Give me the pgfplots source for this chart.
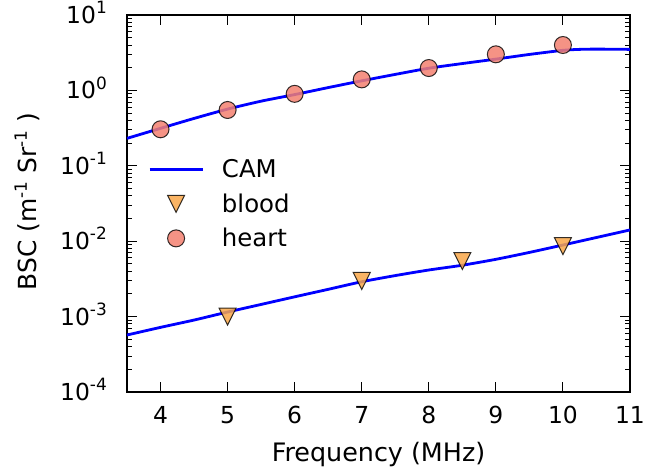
\documentclass[border=0pt]{standalone}
\usepackage{fontspec}
\setmainfont{DejaVu Sans}
\usepackage{pgfplots}
\pgfplotsset{compat=1.18}
\definecolor{camblue}{RGB}{0,0,255}
\definecolor{heartc}{RGB}{243,128,112}
\definecolor{bloodc}{RGB}{249,167,73}
\pgfdeclareplotmark{tridown}{%
  \pgfpathmoveto{\pgfqpoint{0pt}{-\pgfplotmarksize}}%
  \pgfpathlineto{\pgfqpoint{-\pgfplotmarksize}{\pgfplotmarksize}}%
  \pgfpathlineto{\pgfqpoint{\pgfplotmarksize}{\pgfplotmarksize}}%
  \pgfpathclose
  \pgfusepathqfillstroke}
\newcommand{\tsup}[1]{\raisebox{10bp}{\fontsize{17}{17}\selectfont #1}}
\begin{document}
\begin{tikzpicture}[font=\fontsize{24.5}{29}\selectfont]
\begin{axis}[
  at={(0,0)}, anchor=south west,
  scale only axis, width=503bp, height=377bp,
  ymode=log, xmin=3.5, xmax=11, ymin=1e-4, ymax=1e1,
  xtick={4,5,6,7,8,9,10,11},
  xticklabels={4,5,6,7,8,9,10,11},
  ytick={1e-4,1e-3,1e-2,1e-1,1,10},
  yticklabels={10\tsup{-4},10\tsup{-3},10\tsup{-2},10\tsup{-1},10\tsup{0},10\tsup{1}},
  minor ytick={2e-4,3e-4,4e-4,5e-4,6e-4,7e-4,8e-4,9e-4,
               2e-3,3e-3,4e-3,5e-3,6e-3,7e-3,8e-3,9e-3,
               2e-2,3e-2,4e-2,5e-2,6e-2,7e-2,8e-2,9e-2,
               2e-1,3e-1,4e-1,5e-1,6e-1,7e-1,8e-1,9e-1,
               2,3,4,5,6,7,8,9},
  major tick length=10bp, minor tick length=5bp,
  tick style={black, line width=1bp},
  axis line style={black, line width=1.2bp},
  ticklabel style={font=\fontsize{23.5}{28}\selectfont},
  xticklabel style={anchor=north, inner sep=0pt, yshift=-14bp},
  yticklabel style={anchor=base east, inner sep=0pt, xshift=-20bp, yshift=-8.6bp},
  legend cell align=left,
  legend style={draw=none, fill=none, inner sep=0pt, at={(rel axis cs:0,1)}, anchor=north west,
    xshift=21bp, yshift=-144.5bp, row sep=14.5bp, column sep=18bp,
    nodes={inner sep=0pt}},
  legend image code/.code={\draw[mark repeat=2,mark phase=2,#1] plot coordinates {(0bp,0bp) (26.5bp,0bp) (53bp,0bp)};},
]
\addplot[camblue, line width=2.8bp, smooth, tension=0.4] coordinates {
 (3.5,0.231) (4,0.314) (4.5,0.425) (5,0.565) (5.5,0.72) (6,0.88) (6.5,1.09) (7,1.34)
 (7.5,1.63) (8,1.97) (8.5,2.27) (9,2.6) (9.5,3.0) (10,3.4) (10.25,3.5) (10.5,3.53) (11,3.5)};
\addlegendentry{CAM}
\addplot[camblue, line width=2.8bp, smooth, tension=0.4, forget plot] coordinates {
 (3.5,5.7e-4) (4,7.2e-4) (4.5,9.0e-4) (5,1.15e-3) (5.5,1.45e-3) (6,1.83e-3) (6.5,2.3e-3)
 (7,2.9e-3) (7.5,3.5e-3) (8,4.15e-3) (8.5,4.8e-3) (9,5.75e-3) (9.5,7.1e-3) (10,8.9e-3)
 (10.5,1.12e-2) (11,1.41e-2)};
\addplot[only marks, mark=tridown, mark size=8.5bp,
  mark options={fill=bloodc, fill opacity=0.85, draw=black, draw opacity=0.8, line width=1bp}] coordinates {
 (5,1.0e-3) (7,2.97e-3) (8.5,5.46e-3) (10,8.63e-3)};
\addlegendentry{blood}
\addplot[only marks, mark=*, mark size=8.5bp,
  mark options={fill=heartc, fill opacity=0.85, draw=black, draw opacity=0.8, line width=1bp}] coordinates {
 (4,0.305) (5,0.55) (6,0.90) (7,1.40) (8,1.98) (9,3.01) (10,4.0)};
\addlegendentry{heart}
\end{axis}
\node[rotate=90, anchor=base, font=\fontsize{25}{30}\selectfont] at (-90bp,190.5bp) {BSC (m\tsup{-1} Sr\tsup{-1} )};
\node[anchor=base, font=\fontsize{25.5}{30}\selectfont] at (251.5bp,-69bp) {Frequency (MHz)};
\pgfresetboundingbox
\path (-127bp,-81bp) rectangle (520bp,392bp);
\end{tikzpicture}
\end{document}
